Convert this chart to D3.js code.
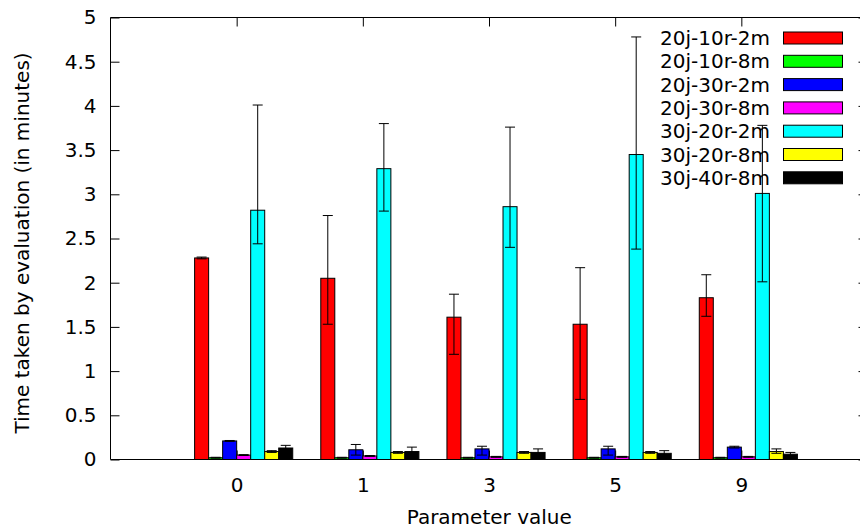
<!DOCTYPE html>
<html>
<head>
<meta charset="utf-8">
<script src="https://cdn.jsdelivr.net/npm/d3@7"></script>
<style>
  body { margin: 0; background: #fff; }
  svg { display: block; font-family: "DejaVu Sans", sans-serif; }
</style>
</head>
<body>
<svg id="chart" width="860" height="528"></svg>
<script>
// categories on the x axis
var categories = ["0", "1", "3", "5", "9"];

// series names and fill colours
var seriesNames = ["20j-10r-2m", "20j-10r-8m", "20j-30r-2m", "20j-30r-8m", "30j-20r-2m", "30j-20r-8m", "30j-40r-8m"];
var seriesColors = ["#ff0000", "#00ff00", "#0000ff", "#ff00ff", "#00ffff", "#ffff00", "#000000"];

// mean values, one array per series (in minutes)
var meanValues = [
  [2.28, 2.05, 1.61, 1.53, 1.83],
  [0.02, 0.02, 0.02, 0.02, 0.02],
  [0.21, 0.11, 0.12, 0.12, 0.14],
  [0.05, 0.04, 0.03, 0.03, 0.03],
  [2.82, 3.29, 2.86, 3.45, 3.01],
  [0.09, 0.08, 0.08, 0.08, 0.09],
  [0.13, 0.09, 0.08, 0.07, 0.06]
];
// lower end of error bars
var lowValues = [
  [2.27, 1.53, 1.19, 0.68, 1.62],
  [0.015, 0.015, 0.015, 0.015, 0.015],
  [0.205, 0.05, 0.05, 0.05, 0.13],
  [0.045, 0.035, 0.025, 0.025, 0.025],
  [2.44, 2.81, 2.40, 2.38, 2.01],
  [0.08, 0.07, 0.07, 0.07, 0.07],
  [0.11, 0.05, 0.04, 0.04, 0.04]
];
// upper end of error bars
var highValues = [
  [2.29, 2.76, 1.87, 2.17, 2.09],
  [0.025, 0.025, 0.025, 0.025, 0.025],
  [0.215, 0.17, 0.15, 0.15, 0.15],
  [0.055, 0.045, 0.035, 0.035, 0.035],
  [4.01, 3.80, 3.76, 4.78, 3.78],
  [0.10, 0.09, 0.09, 0.09, 0.12],
  [0.16, 0.14, 0.12, 0.10, 0.08]
];

var yTicks = [0, 0.5, 1, 1.5, 2, 2.5, 3, 3.5, 4, 4.5, 5];

var plotLeft = 110.5, plotRight = 867.5, plotTop = 17.5, plotBottom = 459.5;
var fontSize = "20px";

var svg = d3.select("#chart");

var x = d3.scaleLinear().domain([-1, 5]).range([plotLeft, plotRight]);
var y = d3.scaleLinear().domain([0, 5]).range([plotBottom, plotTop]);

var nSeries = seriesNames.length;
var boxW = 1 / (nSeries + 2); // gnuplot clustered histogram, gap 2

// border
svg.append("path")
  .attr("d", "M" + plotRight + "," + plotTop + "H" + plotLeft + "V" + plotBottom + "H" + plotRight)
  .attr("fill", "none")
  .attr("stroke", "#000")
  .attr("stroke-width", 1);

// y ticks left and right (inward)
var leftAxis = d3.axisLeft(y).tickValues(yTicks).tickSize(-9).tickPadding(14)
  .tickFormat(function(d) { return d3.format("")(d); });
var gl = svg.append("g").attr("transform", "translate(" + plotLeft + ",0)").call(leftAxis);
gl.select(".domain").remove();
gl.selectAll("text").style("font-size", fontSize).attr("fill", "#000").attr("font-family", "DejaVu Sans");
gl.selectAll("line").attr("stroke", "#000");

var gr = svg.append("g").attr("transform", "translate(" + plotRight + ",0)")
  .call(d3.axisRight(y).tickValues(yTicks).tickSize(-9).tickFormat(""));
gr.select(".domain").remove();
gr.selectAll("line").attr("stroke", "#000");

// x ticks: labels at bottom, mirrored tick marks at top
var catIdx = categories.map(function(c, i) { return i; });
var gb = svg.append("g").attr("transform", "translate(0," + plotBottom + ")")
  .call(d3.axisBottom(x).tickValues(catIdx).tickSize(-9).tickPadding(18)
    .tickFormat(function(i) { return categories[i]; }));
gb.select(".domain").remove();
gb.selectAll("text").style("font-size", fontSize).attr("fill", "#000").attr("font-family", "DejaVu Sans");
gb.selectAll("line").attr("stroke", "#000");

var gt = svg.append("g").attr("transform", "translate(0," + plotTop + ")")
  .call(d3.axisTop(x).tickValues(catIdx).tickSize(-9).tickFormat(""));
gt.select(".domain").remove();
gt.selectAll("line").attr("stroke", "#000");

// legend
var legend = svg.append("g");
seriesNames.forEach(function(name, j) {
  var cy = 38 + j * 23.3;
  legend.append("text")
    .attr("x", 770)
    .attr("y", cy)
    .attr("dy", "0.35em")
    .attr("text-anchor", "end")
    .style("font-size", fontSize)
    .text(name);
  legend.append("rect")
    .attr("x", 783.5)
    .attr("y", cy - 6)
    .attr("width", 59)
    .attr("height", 12)
    .attr("fill", seriesColors[j])
    .attr("stroke", "#000")
    .attr("stroke-width", 1);
});

// bars and error bars
seriesNames.forEach(function(name, j) {
  var g = svg.append("g");
  var offset = (j - 3) * boxW;
  categories.forEach(function(c, i) {
    var x0 = x(i + offset), x1 = x(i + offset + boxW);
    var v = meanValues[j][i];
    g.append("rect")
      .attr("x", x0)
      .attr("y", y(v))
      .attr("width", x1 - x0)
      .attr("height", y(0) - y(v))
      .attr("fill", seriesColors[j])
      .attr("stroke", "#000")
      .attr("stroke-width", 1);
    var cx = (x0 + x1) / 2;
    var yl = y(lowValues[j][i]), yh = y(highValues[j][i]);
    g.append("line")
      .attr("x1", cx).attr("x2", cx)
      .attr("y1", yl).attr("y2", yh)
      .attr("stroke", "#000").attr("stroke-width", 1);
    [yl, yh].forEach(function(yy) {
      g.append("line")
        .attr("x1", cx - 5).attr("x2", cx + 5)
        .attr("y1", yy).attr("y2", yy)
        .attr("stroke", "#000").attr("stroke-width", 1);
    });
  });
});

// axis titles
svg.append("text")
  .attr("x", (plotLeft + 860) / 2 + 4)
  .attr("y", 524)
  .attr("text-anchor", "middle")
  .style("font-size", fontSize)
  .text("Parameter value");

svg.append("text")
  .attr("text-anchor", "middle")
  .attr("transform", "translate(29," + 243 + ")rotate(-90)")
  .style("font-size", fontSize)
  .text("Time taken by evaluation (in minutes)");
</script>
</body>
</html>
